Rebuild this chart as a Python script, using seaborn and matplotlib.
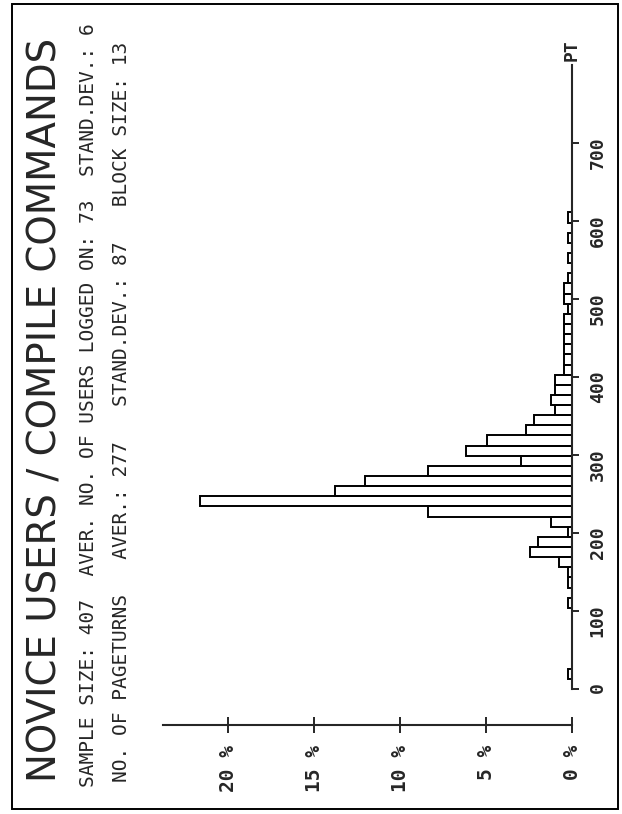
import numpy as np
import pandas as pd
import matplotlib
matplotlib.use("Agg")
import matplotlib.pyplot as plt
from matplotlib.patches import Rectangle
import seaborn as sns

# ---------------- data ----------------
block_size = 13
sample_size = 407
bin_index = [1, 8, 10, 11, 12, 13, 14, 15, 16, 17, 18, 19, 20, 21, 22, 23, 24,
             25, 26, 27, 28, 29, 30, 31, 32, 33, 34, 35, 36, 37, 38, 39, 40,
             42, 44, 46]
counts = [1, 1, 1, 1, 3, 10, 8, 1, 5, 34, 88, 56, 49, 34, 12, 25, 20,
          11, 9, 4, 5, 4, 4, 2, 2, 2, 2, 2, 2, 1, 2, 2, 1,
          1, 1, 1]
pct_ticks = [0, 5, 10, 15, 20]
pct_labels = ["0 %", "5 %", "10 %", "15 %", "20 %"]
pt_ticks = [0, 100, 200, 300, 400, 500, 600, 700]
pt_labels = ["0", "100", "200", "300", "400", "500", "600", "700"]
title = "NOVICE USERS / COMPILE COMMANDS"
line1 = "SAMPLE SIZE: 407  AVER. NO. OF USERS LOGGED ON: 73  STAND.DEV.: 6"
line2 = "NO. OF PAGETURNS   AVER.: 277   STAND.DEV.: 87   BLOCK SIZE: 13"

df = pd.DataFrame({
    "pt": np.array(bin_index) * block_size + block_size / 2,
    "pct": np.array(counts) / sample_size * 100,
})

# ---------------- figure ----------------
sns.set_style("white")
plt.rcParams["font.family"] = ["DejaVu Sans Mono", "DejaVu Sans"]
W, H = 622, 814
fig = plt.figure(figsize=(W / 100, H / 100), dpi=100)
ax = fig.add_axes([0, 0, 1, 1])
ax.patch.set_alpha(0)

sns.histplot(data=df, y="pt", weights="pct", binwidth=block_size,
             binrange=(0, 48 * block_size), fill=False,
             color="black", linewidth=1.4, ax=ax)

# pixel geometry: 0 % at x=572, 17.2 px per %, 0 PT at y=689 (from top), 0.78 px/PT
px_per_pct = 17.2
px_per_pt = 0.78
x0, y0 = 572, 689
ax.set_xlim(x0 / px_per_pct, (x0 - W) / px_per_pct)
ax.set_ylim((y0 - H) / px_per_pt, y0 / px_per_pt)
ax.set_xlabel("")
ax.set_ylabel("")

for s in ["top", "left"]:
    ax.spines[s].set_visible(False)
ax.spines["right"].set_position(("data", 0))
ax.spines["right"].set_bounds(0, 800)
ax.spines["right"].set_linewidth(1.5)
ax.spines["bottom"].set_position(("data", (y0 - 725) / px_per_pt))
ax.spines["bottom"].set_bounds(0, (x0 - 163) / px_per_pct)
ax.spines["bottom"].set_linewidth(1.5)

ax.yaxis.tick_right()
ax.set_xticks(pct_ticks, labels=pct_labels)
ax.set_yticks(pt_ticks, labels=pt_labels)
ax.tick_params(axis="x", direction="inout", length=11, width=1.4,
               labelrotation=90, labelsize=14, pad=9, bottom=True)
ax.tick_params(axis="y", direction="out", length=5, width=1.4,
               labelrotation=90, labelsize=13, pad=7, right=True, left=False)
for lab in ax.get_xticklabels() + ax.get_yticklabels():
    lab.set_fontweight("bold")

ax.text(0, 805, "PT", rotation=90, ha="center", va="bottom", fontsize=13,
        fontweight="bold")

# ---------------- texts ----------------
renderer = fig.canvas.get_renderer()


def fit_text(xc, ybot, ytop, s, family, weight="normal"):
    t = fig.text(xc / W, 1 - ybot / H, s, rotation=90, ha="center",
                 va="bottom", fontsize=20, family=family, fontweight=weight)
    ext = t.get_window_extent(renderer=renderer)
    t.set_fontsize(20 * (ybot - ytop) / ext.height)
    return t


fit_text(46, 782, 35, title, ["DejaVu Sans"])
fit_text(89, 787, 23, line1, ["DejaVu Sans Mono"])
fit_text(122, 782, 40, line2, ["DejaVu Sans Mono"])

fig.add_artist(Rectangle((12 / W, 1 - 809 / H), (618 - 12) / W, (809 - 4) / H,
                         transform=fig.transFigure, fill=False,
                         edgecolor="black", linewidth=1.4))

fig.savefig("out.png", dpi=100)
